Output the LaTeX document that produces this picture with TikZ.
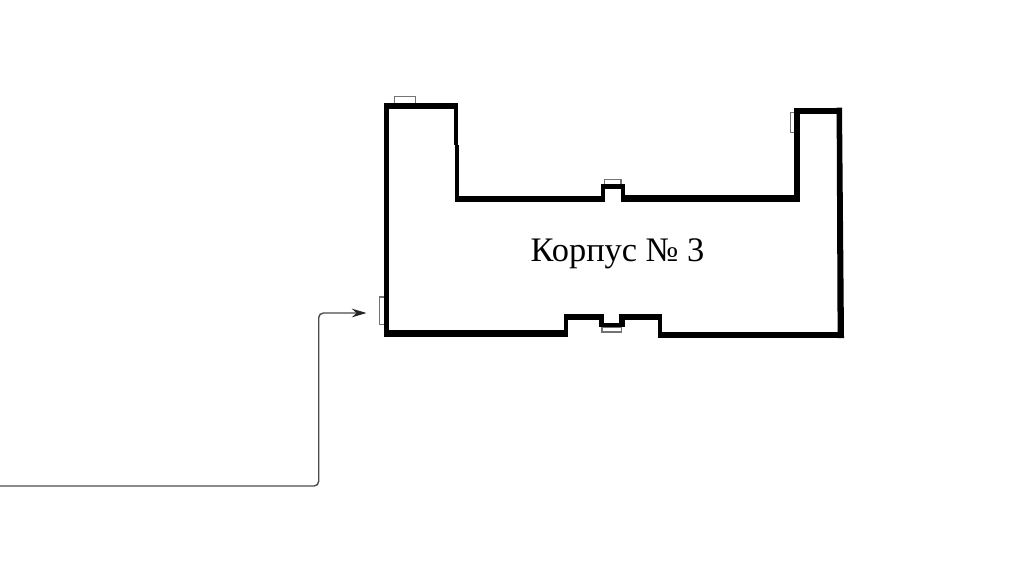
\documentclass[tikz,border=0pt]{standalone}
\usepackage{fontspec}
\setmainfont{Liberation Serif}
\usetikzlibrary{arrows.meta}
\tikzset{
  wall/.style={fill=black,draw=none},
  door/.style={draw=black!55,fill=white,line width=0.85pt},
  route/.style={draw=black!70,line width=1.05pt,rounded corners=3.5pt,-{Stealth[length=11pt,width=6.5pt,color=black!85]}},
  label/.style={font=\fontsize{25.8pt}{30pt}\selectfont,inner sep=0pt,anchor=base}
}
\begin{document}
\begin{tikzpicture}[x=0.75pt,y=-0.75pt]
\useasboundingbox (0,0) rectangle (1012,569);
\fill[white] (0,0) rectangle (1012,569);
% entrance boxes
\draw[door] (394.5,96.5) rectangle (415.5,103.5);
\draw[door] (604.5,179.5) rectangle (621,184.5);
\draw[door] (602,327.5) rectangle (621.5,332);
\draw[door] (790.5,112.5) rectangle (794.5,132.5);
\draw[door] (379.5,297) rectangle (384.5,324.5);
% left tower
\fill[wall] (383.8,103.3) rectangle (388.8,336.7);
\fill[wall] (383.8,103.3) rectangle (458.3,109);
\fill[wall] (454.3,103.3) rectangle (458.3,145);
\fill[wall] (455.3,145) rectangle (458.6,201.5);
% inner court
\fill[wall] (455.8,195.5) rectangle (604.3,202);
\fill[wall] (600.8,184.3) rectangle (604.5,202);
\fill[wall] (600.8,184.3) rectangle (624.7,189.3);
\fill[wall] (621,184.3) rectangle (624.7,201.7);
\fill[wall] (621,195) rectangle (799.3,201.7);
% right tower
\fill[wall] (794.1,107.7) rectangle (799.5,201.7);
\fill[wall] (794.1,107.7) rectangle (842,113.7);
\fill[wall] (836.6,107.7) -- (842,107.7) -- (844,338) -- (837.6,338) -- cycle;
% bottom
\fill[wall] (383.8,330) rectangle (567.5,336.7);
\fill[wall] (564,314.3) rectangle (567.5,336.7);
\fill[wall] (564,314.3) rectangle (604,319.5);
\fill[wall] (598.5,314.3) rectangle (604,327.3);
\fill[wall] (598.5,322.7) rectangle (624.7,327.3);
\fill[wall] (619.3,314.3) rectangle (624.7,327.3);
\fill[wall] (619.3,314.3) rectangle (662.3,319.5);
\fill[wall] (657.7,314.3) rectangle (662.3,337.7);
\fill[wall] (657.7,331.7) rectangle (844,338);
% label
\node[label] (title) at (617.5,261) {Корпус № 3};
% route
\coordinate (routeStart) at (0,486);
\coordinate (routeEnd) at (366.5,313);
\draw[route] (routeStart) -| (318.7,313) -- (routeEnd);
\end{tikzpicture}
\end{document}
